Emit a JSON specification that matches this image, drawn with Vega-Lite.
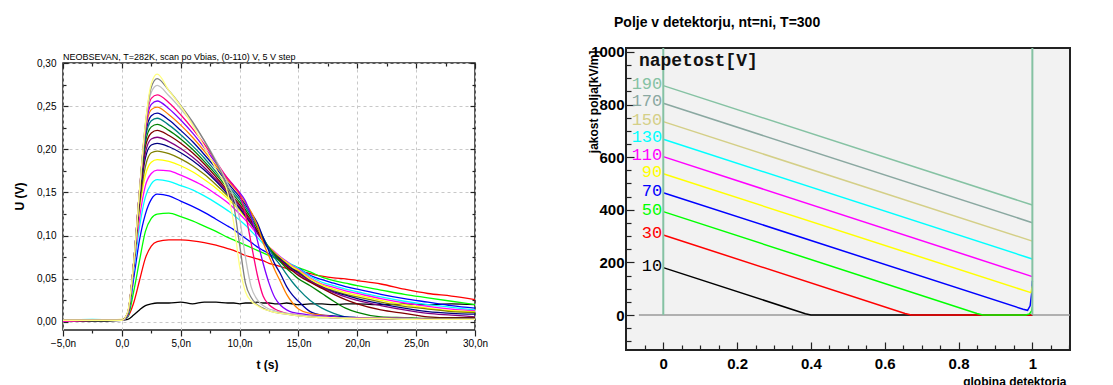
{
  "$schema": "https://vega.github.io/schema/vega-lite/v6.json",
  "background": "white",
  "padding": {"left": 12, "top": 14, "right": 0, "bottom": 0},
  "spacing": 97,
  "resolve": {"scale": {"color": "independent"}},
  "config": {"font": "Liberation Sans", "axis": {"labelOverlap": false, "labelFlush": false}},
  "datasets": {
    "pulses": [
      {"t":-5,"c01":0.002,"c02":0.001,"c03":0.002,"c04":0.002,"c05":0.002,"c06":0.001,"c07":0.002,"c08":0.002,"c09":0.002,"c10":0.002,"c11":0.002,"c12":0.002,"c13":0.002,"c14":0.002,"c15":0.002,"c16":0.002,"c17":0.002,"c18":0.002,"c19":0.002,"c20":0.002},
      {"t":-2.5,"c01":0.001,"c02":0.002,"c03":0.002,"c04":0.002,"c05":0.003,"c06":0.002,"c07":0.002,"c08":0.002,"c09":0.002,"c10":0.002,"c11":0.002,"c12":0.002,"c13":0.002,"c14":0.002,"c15":0.002,"c16":0.002,"c17":0.002,"c18":0.002,"c19":0.002,"c20":0.002},
      {"t":0,"c01":0.002,"c02":0.002,"c03":0.002,"c04":0.002,"c05":0.002,"c06":0.002,"c07":0.003,"c08":0.002,"c09":0.002,"c10":0.002,"c11":0.002,"c12":0.002,"c13":0.002,"c14":0.002,"c15":0.002,"c16":0.002,"c17":0.002,"c18":0.002,"c19":0.002,"c20":0.002},
      {"t":0.5,"c01":0.003,"c02":0.006,"c03":0.006,"c04":0.007,"c05":0.008,"c06":0.008,"c07":0.009,"c08":0.009,"c09":0.009,"c10":0.009,"c11":0.010,"c12":0.010,"c13":0.010,"c14":0.010,"c15":0.010,"c16":0.011,"c17":0.011,"c18":0.011,"c19":0.011,"c20":0.012},
      {"t":1,"c01":0.008,"c02":0.022,"c03":0.035,"c04":0.050,"c05":0.058,"c06":0.062,"c07":0.064,"c08":0.065,"c09":0.066,"c10":0.066,"c11":0.067,"c12":0.067,"c13":0.068,"c14":0.068,"c15":0.068,"c16":0.068,"c17":0.068,"c18":0.068,"c19":0.068,"c20":0.068},
      {"t":1.5,"c01":0.014,"c02":0.048,"c03":0.071,"c04":0.095,"c05":0.110,"c06":0.120,"c07":0.130,"c08":0.135,"c09":0.140,"c10":0.143,"c11":0.145,"c12":0.148,"c13":0.150,"c14":0.151,"c15":0.152,"c16":0.152,"c17":0.152,"c18":0.152,"c19":0.152,"c20":0.152},
      {"t":2,"c01":0.019,"c02":0.074,"c03":0.105,"c04":0.125,"c05":0.145,"c06":0.158,"c07":0.170,"c08":0.180,"c09":0.190,"c10":0.196,"c11":0.203,"c12":0.208,"c13":0.213,"c14":0.217,"c15":0.221,"c16":0.224,"c17":0.226,"c18":0.228,"c19":0.229,"c20":0.230},
      {"t":2.5,"c01":0.021,"c02":0.088,"c03":0.120,"c04":0.142,"c05":0.160,"c06":0.172,"c07":0.185,"c08":0.196,"c09":0.205,"c10":0.212,"c11":0.219,"c12":0.226,"c13":0.233,"c14":0.239,"c15":0.246,"c16":0.252,"c17":0.259,"c18":0.266,"c19":0.272,"c20":0.276},
      {"t":3,"c01":0.022,"c02":0.093,"c03":0.125,"c04":0.148,"c05":0.165,"c06":0.176,"c07":0.188,"c08":0.198,"c09":0.207,"c10":0.214,"c11":0.222,"c12":0.229,"c13":0.236,"c14":0.242,"c15":0.249,"c16":0.256,"c17":0.263,"c18":0.274,"c19":0.282,"c20":0.287},
      {"t":4,"c01":0.022,"c02":0.095,"c03":0.126,"c04":0.146,"c05":0.163,"c06":0.175,"c07":0.186,"c08":0.195,"c09":0.203,"c10":0.209,"c11":0.216,"c12":0.222,"c13":0.228,"c14":0.234,"c15":0.240,"c16":0.247,"c17":0.254,"c18":0.262,"c19":0.268,"c20":0.268},
      {"t":5,"c01":0.023,"c02":0.095,"c03":0.122,"c04":0.140,"c05":0.158,"c06":0.170,"c07":0.181,"c08":0.189,"c09":0.196,"c10":0.201,"c11":0.207,"c12":0.212,"c13":0.217,"c14":0.222,"c15":0.228,"c16":0.234,"c17":0.240,"c18":0.247,"c19":0.251,"c20":0.250},
      {"t":6,"c01":0.021,"c02":0.094,"c03":0.117,"c04":0.134,"c05":0.153,"c06":0.164,"c07":0.174,"c08":0.181,"c09":0.187,"c10":0.191,"c11":0.196,"c12":0.200,"c13":0.204,"c14":0.209,"c15":0.214,"c16":0.219,"c17":0.224,"c18":0.230,"c19":0.232,"c20":0.228},
      {"t":7,"c01":0.023,"c02":0.092,"c03":0.111,"c04":0.127,"c05":0.146,"c06":0.157,"c07":0.165,"c08":0.171,"c09":0.176,"c10":0.179,"c11":0.183,"c12":0.186,"c13":0.190,"c14":0.194,"c15":0.198,"c16":0.202,"c17":0.206,"c18":0.210,"c19":0.210,"c20":0.203},
      {"t":8,"c01":0.023,"c02":0.089,"c03":0.105,"c04":0.119,"c05":0.138,"c06":0.148,"c07":0.155,"c08":0.159,"c09":0.163,"c10":0.165,"c11":0.168,"c12":0.171,"c13":0.174,"c14":0.178,"c15":0.181,"c16":0.184,"c17":0.186,"c18":0.187,"c19":0.185,"c20":0.177},
      {"t":9,"c01":0.022,"c02":0.085,"c03":0.098,"c04":0.111,"c05":0.129,"c06":0.138,"c07":0.143,"c08":0.146,"c09":0.148,"c10":0.150,"c11":0.152,"c12":0.155,"c13":0.158,"c14":0.161,"c15":0.164,"c16":0.166,"c17":0.166,"c18":0.160,"c19":0.155,"c20":0.149},
      {"t":9.5,"c01":0.022,"c02":0.083,"c03":0.095,"c04":0.107,"c05":0.124,"c06":0.132,"c07":0.136,"c08":0.139,"c09":0.140,"c10":0.142,"c11":0.144,"c12":0.147,"c13":0.150,"c14":0.153,"c15":0.156,"c16":0.158,"c17":0.158,"c18":0.145,"c19":0.135,"c20":0.115},
      {"t":10,"c01":0.021,"c02":0.080,"c03":0.092,"c04":0.102,"c05":0.118,"c06":0.125,"c07":0.129,"c08":0.131,"c09":0.132,"c10":0.134,"c11":0.136,"c12":0.139,"c13":0.142,"c14":0.145,"c15":0.148,"c16":0.150,"c17":0.148,"c18":0.120,"c19":0.090,"c20":0.065},
      {"t":10.5,"c01":0.022,"c02":0.077,"c03":0.089,"c04":0.097,"c05":0.112,"c06":0.118,"c07":0.121,"c08":0.122,"c09":0.123,"c10":0.125,"c11":0.127,"c12":0.130,"c13":0.133,"c14":0.136,"c15":0.138,"c16":0.140,"c17":0.125,"c18":0.075,"c19":0.045,"c20":0.035},
      {"t":11,"c01":0.022,"c02":0.075,"c03":0.086,"c04":0.092,"c05":0.105,"c06":0.110,"c07":0.113,"c08":0.113,"c09":0.114,"c10":0.115,"c11":0.117,"c12":0.120,"c13":0.123,"c14":0.126,"c15":0.127,"c16":0.122,"c17":0.090,"c18":0.040,"c19":0.028,"c20":0.024},
      {"t":11.5,"c01":0.023,"c02":0.073,"c03":0.083,"c04":0.087,"c05":0.098,"c06":0.102,"c07":0.104,"c08":0.104,"c09":0.104,"c10":0.105,"c11":0.106,"c12":0.109,"c13":0.112,"c14":0.115,"c15":0.112,"c16":0.095,"c17":0.055,"c18":0.026,"c19":0.020,"c20":0.019},
      {"t":12,"c01":0.022,"c02":0.071,"c03":0.080,"c04":0.083,"c05":0.091,"c06":0.094,"c07":0.095,"c08":0.095,"c09":0.094,"c10":0.094,"c11":0.095,"c12":0.097,"c13":0.098,"c14":0.098,"c15":0.092,"c16":0.068,"c17":0.030,"c18":0.019,"c19":0.016,"c20":0.015},
      {"t":12.5,"c01":0.022,"c02":0.068,"c03":0.077,"c04":0.079,"c05":0.085,"c06":0.087,"c07":0.087,"c08":0.086,"c09":0.085,"c10":0.085,"c11":0.085,"c12":0.086,"c13":0.085,"c14":0.082,"c15":0.076,"c16":0.045,"c17":0.020,"c18":0.015,"c19":0.013,"c20":0.013},
      {"t":13,"c01":0.021,"c02":0.066,"c03":0.074,"c04":0.075,"c05":0.080,"c06":0.081,"c07":0.080,"c08":0.079,"c09":0.078,"c10":0.077,"c11":0.077,"c12":0.077,"c13":0.074,"c14":0.067,"c15":0.060,"c16":0.028,"c17":0.015,"c18":0.013,"c19":0.011,"c20":0.011},
      {"t":13.5,"c01":0.021,"c02":0.064,"c03":0.071,"c04":0.071,"c05":0.075,"c06":0.075,"c07":0.074,"c08":0.073,"c09":0.072,"c10":0.071,"c11":0.070,"c12":0.069,"c13":0.065,"c14":0.055,"c15":0.046,"c16":0.019,"c17":0.012,"c18":0.011,"c19":0.010,"c20":0.010},
      {"t":14,"c01":0.022,"c02":0.062,"c03":0.068,"c04":0.068,"c05":0.070,"c06":0.070,"c07":0.069,"c08":0.067,"c09":0.066,"c10":0.065,"c11":0.064,"c12":0.062,"c13":0.055,"c14":0.041,"c15":0.032,"c16":0.014,"c17":0.010,"c18":0.010,"c19":0.009,"c20":0.009},
      {"t":14.5,"c01":0.021,"c02":0.060,"c03":0.066,"c04":0.065,"c05":0.066,"c06":0.065,"c07":0.064,"c08":0.062,"c09":0.061,"c10":0.060,"c11":0.059,"c12":0.056,"c13":0.046,"c14":0.031,"c15":0.022,"c16":0.011,"c17":0.009,"c18":0.009,"c19":0.008,"c20":0.008},
      {"t":15,"c01":0.020,"c02":0.059,"c03":0.063,"c04":0.062,"c05":0.062,"c06":0.061,"c07":0.060,"c08":0.058,"c09":0.057,"c10":0.056,"c11":0.054,"c12":0.050,"c13":0.038,"c14":0.024,"c15":0.015,"c16":0.010,"c17":0.008,"c18":0.008,"c19":0.007,"c20":0.007},
      {"t":16,"c01":0.021,"c02":0.056,"c03":0.058,"c04":0.054,"c05":0.053,"c06":0.051,"c07":0.050,"c08":0.048,"c09":0.047,"c10":0.047,"c11":0.046,"c12":0.042,"c13":0.025,"c14":0.012,"c15":0.010,"c16":0.008,"c17":0.007,"c18":0.007,"c19":0.006,"c20":0.006},
      {"t":17,"c01":0.021,"c02":0.053,"c03":0.052,"c04":0.049,"c05":0.046,"c06":0.044,"c07":0.043,"c08":0.041,"c09":0.040,"c10":0.040,"c11":0.039,"c12":0.033,"c13":0.016,"c14":0.008,"c15":0.008,"c16":0.007,"c17":0.006,"c18":0.006,"c19":0.005,"c20":0.005},
      {"t":18,"c01":0.020,"c02":0.051,"c03":0.048,"c04":0.045,"c05":0.042,"c06":0.040,"c07":0.038,"c08":0.036,"c09":0.035,"c10":0.034,"c11":0.032,"c12":0.024,"c13":0.010,"c14":0.007,"c15":0.006,"c16":0.006,"c17":0.005,"c18":0.005,"c19":0.005,"c20":0.005},
      {"t":19,"c01":0.021,"c02":0.050,"c03":0.045,"c04":0.041,"c05":0.038,"c06":0.036,"c07":0.034,"c08":0.032,"c09":0.031,"c10":0.029,"c11":0.026,"c12":0.016,"c13":0.006,"c14":0.006,"c15":0.005,"c16":0.005,"c17":0.005,"c18":0.005,"c19":0.004,"c20":0.004},
      {"t":20,"c01":0.021,"c02":0.048,"c03":0.042,"c04":0.038,"c05":0.035,"c06":0.033,"c07":0.031,"c08":0.029,"c09":0.027,"c10":0.025,"c11":0.021,"c12":0.011,"c13":0.005,"c14":0.005,"c15":0.005,"c16":0.005,"c17":0.004,"c18":0.004,"c19":0.004,"c20":0.004},
      {"t":22,"c01":0.020,"c02":0.044,"c03":0.037,"c04":0.032,"c05":0.029,"c06":0.027,"c07":0.025,"c08":0.023,"c09":0.021,"c10":0.019,"c11":0.014,"c12":0.006,"c13":0.004,"c14":0.004,"c15":0.004,"c16":0.004,"c17":0.004,"c18":0.004,"c19":0.004,"c20":0.004},
      {"t":24,"c01":0.021,"c02":0.038,"c03":0.032,"c04":0.027,"c05":0.024,"c06":0.022,"c07":0.020,"c08":0.018,"c09":0.016,"c10":0.014,"c11":0.010,"c12":0.005,"c13":0.004,"c14":0.004,"c15":0.004,"c16":0.004,"c17":0.004,"c18":0.004,"c19":0.003,"c20":0.003},
      {"t":26,"c01":0.020,"c02":0.033,"c03":0.028,"c04":0.023,"c05":0.020,"c06":0.018,"c07":0.016,"c08":0.015,"c09":0.012,"c10":0.010,"c11":0.006,"c12":0.004,"c13":0.003,"c14":0.003,"c15":0.003,"c16":0.003,"c17":0.003,"c18":0.003,"c19":0.003,"c20":0.003},
      {"t":28,"c01":0.021,"c02":0.030,"c03":0.024,"c04":0.019,"c05":0.017,"c06":0.015,"c07":0.013,"c08":0.012,"c09":0.010,"c10":0.008,"c11":0.005,"c12":0.004,"c13":0.003,"c14":0.003,"c15":0.003,"c16":0.003,"c17":0.003,"c18":0.003,"c19":0.003,"c20":0.003},
      {"t":30,"c01":0.020,"c02":0.026,"c03":0.020,"c04":0.016,"c05":0.014,"c06":0.013,"c07":0.012,"c08":0.011,"c09":0.009,"c10":0.006,"c11":0.005,"c12":0.004,"c13":0.003,"c14":0.003,"c15":0.003,"c16":0.003,"c17":0.003,"c18":0.003,"c19":0.003,"c20":0.003}
    ],
    "field": [
      {"v":"10","x":0,"e":180},{"v":"10","x":0.385,"e":5},{"v":"10","x":0.4,"e":0.5},{"v":"10","x":0.42,"e":0},{"v":"10","x":1,"e":0},
      {"v":"30","x":0,"e":304},{"v":"30","x":0.655,"e":6},{"v":"30","x":0.672,"e":0.5},{"v":"30","x":0.69,"e":0},{"v":"30","x":1,"e":0},
      {"v":"50","x":0,"e":393},{"v":"50","x":0.85,"e":6},{"v":"50","x":0.866,"e":0.5},{"v":"50","x":0.885,"e":0},{"v":"50","x":0.982,"e":0},{"v":"50","x":0.992,"e":4},{"v":"50","x":0.998,"e":15},{"v":"50","x":1,"e":30},
      {"v":"70","x":0,"e":465},{"v":"70","x":0.975,"e":22},{"v":"70","x":0.987,"e":18},{"v":"70","x":0.994,"e":35},{"v":"70","x":0.998,"e":80},{"v":"70","x":1,"e":130},
      {"v":"90","x":0,"e":537},{"v":"90","x":0.996,"e":85},{"v":"90","x":1,"e":110},
      {"v":"110","x":0,"e":602},{"v":"110","x":1,"e":146},
      {"v":"130","x":0,"e":668},{"v":"130","x":1,"e":213},
      {"v":"150","x":0,"e":735},{"v":"150","x":1,"e":281},
      {"v":"170","x":0,"e":805},{"v":"170","x":1,"e":351},
      {"v":"190","x":0,"e":872},{"v":"190","x":1,"e":418}
    ],
    "labels": [
      {"v":"10","x":0,"e":180},{"v":"30","x":0,"e":304},{"v":"50","x":0,"e":393},{"v":"70","x":0,"e":465},{"v":"90","x":0,"e":537},
      {"v":"110","x":0,"e":602},{"v":"130","x":0,"e":668},{"v":"150","x":0,"e":735},{"v":"170","x":0,"e":805},{"v":"190","x":0,"e":872}
    ]
  },
  "hconcat": [
    {
      "spacing": 0,
      "vconcat": [
        {
          "width": 412,
          "height": 1,
          "view": {"stroke": null},
          "data": {"values": [{"s": 1}]},
          "mark": {"type": "point", "opacity": 0}
        },
        {
          "width": 412,
          "height": 267,
          "view": {"stroke": "#222", "strokeWidth": 1.5},
          "title": {"text": "NEOBSEVAN, T=282K, scan po Vbias, (0-110) V, 5 V step", "anchor": "start", "frame": "group", "fontSize": 9, "fontWeight": "normal", "offset": -4, "color": "#000"},
          "data": {"name": "pulses"},
          "transform": [{"fold": ["c01","c02","c03","c04","c05","c06","c07","c08","c09","c10","c11","c12","c13","c14","c15","c16","c17","c18","c19","c20"], "as": ["curve", "u"]}],
          "layer": [
            {
              "mark": {"type": "line", "strokeWidth": 1.3, "interpolate": "monotone"},
              "encoding": {
                "x": {"field": "t", "type": "quantitative", "scale": {"domain": [-5, 30], "nice": false, "zero": false},
                  "axis": {"orient": "bottom", "values": [-5,-2.5,0,2.5,5,7.5,10,12.5,15,17.5,20,22.5,25,27.5,30],
                    "labelExpr": "round(datum.value*10) % 50 == 0 ? (datum.value == 0 ? '0,0' : replace(format(datum.value, '.1f'), '.', ',') + 'n') : ''",
                    "labelFontSize": 10, "labelColor": "#000", "labelPadding": 2,
                    "tickColor": "#222", "tickWidth": 1.2, "tickSize": {"condition": {"test": "round(datum.value*10) % 50 == 0", "value": 6}, "value": 3},
                    "domain": false, "grid": true, "gridColor": "#c8c8c8", "gridDash": [3, 3],
                    "gridOpacity": {"condition": {"test": "round(datum.value*10) % 50 == 0", "value": 1}, "value": 0},
                    "title": "t (s)", "titleFontSize": 12, "titleFontWeight": "bold", "titleColor": "#000", "titleX": 204, "titleY": 34, "titleAlign": "center", "titleBaseline": "middle"}},
                "y": {"field": "u", "type": "quantitative", "scale": {"domain": [-0.0093, 0.3], "nice": false, "zero": false},
                  "axis": {"orient": "left", "values": [0,0.025,0.05,0.075,0.1,0.125,0.15,0.175,0.2,0.225,0.25,0.275,0.3],
                    "labelExpr": "round(datum.value*1000) % 50 == 0 ? replace(format(datum.value, '.2f'), '.', ',') : ''",
                    "labelFontSize": 10, "labelColor": "#000", "labelPadding": 12,
                    "tickColor": "#222", "tickWidth": 1.2, "tickSize": {"condition": {"test": "round(datum.value*1000) % 50 == 0", "value": -5}, "value": -3},
                    "domain": false, "grid": true, "gridColor": "#c8c8c8", "gridDash": [3, 3],
                    "gridOpacity": {"condition": {"test": "round(datum.value*1000) % 50 == 0", "value": 1}, "value": 0},
                    "title": "U (V)", "titleFontSize": 12, "titleFontWeight": "bold", "titleColor": "#000", "titleX": -44, "titleY": 133, "titleAngle": 270, "titleAlign": "center", "titleBaseline": "middle"}},
                "color": {"field": "curve", "type": "nominal", "legend": null,
                  "scale": {"domain": ["c01","c02","c03","c04","c05","c06","c07","c08","c09","c10","c11","c12","c13","c14","c15","c16","c17","c18","c19","c20"],
                    "range": ["#000000","#ff0000","#00ff00","#0000ff","#00ffff","#ff00ff","#ffff00","#808000","#000080","#800080","#800000","#008000","#008080","#0000a0","#ff8000","#8000ff","#ff0080","#c0c0c0","#808080","#ffff80"]}}
              }
            },
            {
              "mark": {"type": "point", "opacity": 0},
              "encoding": {
                "x": {"field": "t", "type": "quantitative",
                  "axis": {"orient": "top", "values": [-5,-2.5,0,2.5,5,7.5,10,12.5,15,17.5,20,22.5,25,27.5,30], "labels": false, "domain": false, "grid": false, "title": null,
                    "tickColor": "#222", "tickWidth": 1.2, "tickSize": {"condition": {"test": "round(datum.value*10) % 50 == 0", "value": -5}, "value": -3}}},
                "y": {"field": "u", "type": "quantitative",
                  "axis": {"orient": "right", "values": [0,0.025,0.05,0.075,0.1,0.125,0.15,0.175,0.2,0.225,0.25,0.275,0.3], "labels": false, "domain": false, "grid": false, "title": null,
                    "tickColor": "#222", "tickWidth": 1.2, "tickSize": {"condition": {"test": "round(datum.value*1000) % 50 == 0", "value": -5}, "value": -3}}}
              }
            }
          ],
          "resolve": {"axis": {"x": "independent", "y": "independent"}}
        }
      ]
    },
    {
      "width": 444,
      "height": 302,
      "view": {"fill": "#f2f2f2", "stroke": "#222", "strokeWidth": 2},
      "title": {"text": "Polje v detektorju, nt=ni, T=300", "anchor": "start", "frame": "group", "dx": -12, "fontSize": 14, "fontWeight": "bold", "offset": 15, "color": "#000"},
      "encoding": {
        "x": {"field": "x", "type": "quantitative", "scale": {"domain": [-0.101, 1.102], "nice": false, "zero": false},
          "axis": {"orient": "bottom", "values": [-0.05,0,0.05,0.1,0.15,0.2,0.25,0.3,0.35,0.4,0.45,0.5,0.55,0.6,0.65,0.7,0.75,0.8,0.85,0.9,0.95,1,1.05,1.1],
            "labelExpr": "abs(round(datum.value*100) % 20) == 0 && datum.value > -0.01 ? format(datum.value, '.1~f') : ''",
            "labelFontSize": 15, "labelFontWeight": "bold", "labelColor": "#000", "labelPadding": 14,
            "tickColor": "#222", "tickWidth": 1.2, "tickSize": {"condition": {"test": "abs(round(datum.value*100) % 20) == 0", "value": -8}, "value": -5},
            "domain": false, "grid": false,
            "title": "globina detektorja", "titleFontSize": 12, "titleFontWeight": "bold", "titleColor": "#000", "titleX": 440, "titleY": 31, "titleAlign": "right", "titleBaseline": "middle"}},
        "y": {"field": "e", "type": "quantitative", "scale": {"domain": [-133, 1015], "nice": false, "zero": false},
          "axis": {"orient": "left", "values": [-100,-50,0,50,100,150,200,250,300,350,400,450,500,550,600,650,700,750,800,850,900,950,1000],
            "labelExpr": "round(datum.value) % 200 == 0 && datum.value >= 0 ? format(datum.value, 'd') : ''",
            "labelFontSize": 15, "labelFontWeight": "bold", "labelColor": "#000", "labelPadding": 10,
            "tickColor": "#222", "tickWidth": 1.2, "tickSize": {"condition": {"test": "round(datum.value) % 200 == 0", "value": -8}, "value": -5},
            "domain": false, "grid": false,
            "title": "jakost polja[kV/m]", "titleFontSize": 12, "titleFontWeight": "bold", "titleColor": "#000", "titleX": -33, "titleY": 2, "titleAngle": 270, "titleAlign": "right", "titleBaseline": "middle"}}
      },
      "layer": [
        {
          "data": {"values": [{"x": -0.066, "x2": 1.102, "e": 0}]},
          "mark": {"type": "rule", "color": "#9a9a9a", "strokeWidth": 1.5},
          "encoding": {"x2": {"field": "x2"}}
        },
        {
          "data": {"name": "field"},
          "mark": {"type": "line", "strokeWidth": 1.5},
          "encoding": {
            "color": {"field": "v", "type": "nominal", "legend": null,
              "scale": {"domain": ["10","30","50","70","90","110","130","150","170","190"],
                "range": ["#000000","#ff0000","#00ff00","#0000ff","#ffff00","#ff00ff","#00ffff","#d4cf87","#8aa8a1","#85c2a3"]}}
          }
        },
        {
          "data": {"values": [{"x": 0, "e": 0, "e2": 1015}, {"x": 1, "e": 0, "e2": 1015}]},
          "mark": {"type": "rule", "color": "#85c2a3", "strokeWidth": 2},
          "encoding": {"y2": {"field": "e2"}}
        },
        {
          "data": {"name": "labels"},
          "mark": {"type": "text", "align": "right", "baseline": "middle", "font": "Liberation Mono", "fontSize": 17, "dy": -2, "dx": -1},
          "encoding": {
            "text": {"field": "v"},
            "color": {"field": "v", "type": "nominal", "legend": null}
          }
        },
        {
          "data": {"values": [{"x": -0.066, "e": 966, "t": "napetost[V]"}]},
          "mark": {"type": "text", "align": "left", "baseline": "middle", "font": "Liberation Mono", "fontSize": 18, "fontWeight": "bold", "color": "#111"},
          "encoding": {"text": {"field": "t"}}
        }
      ]
    }
  ]
}
